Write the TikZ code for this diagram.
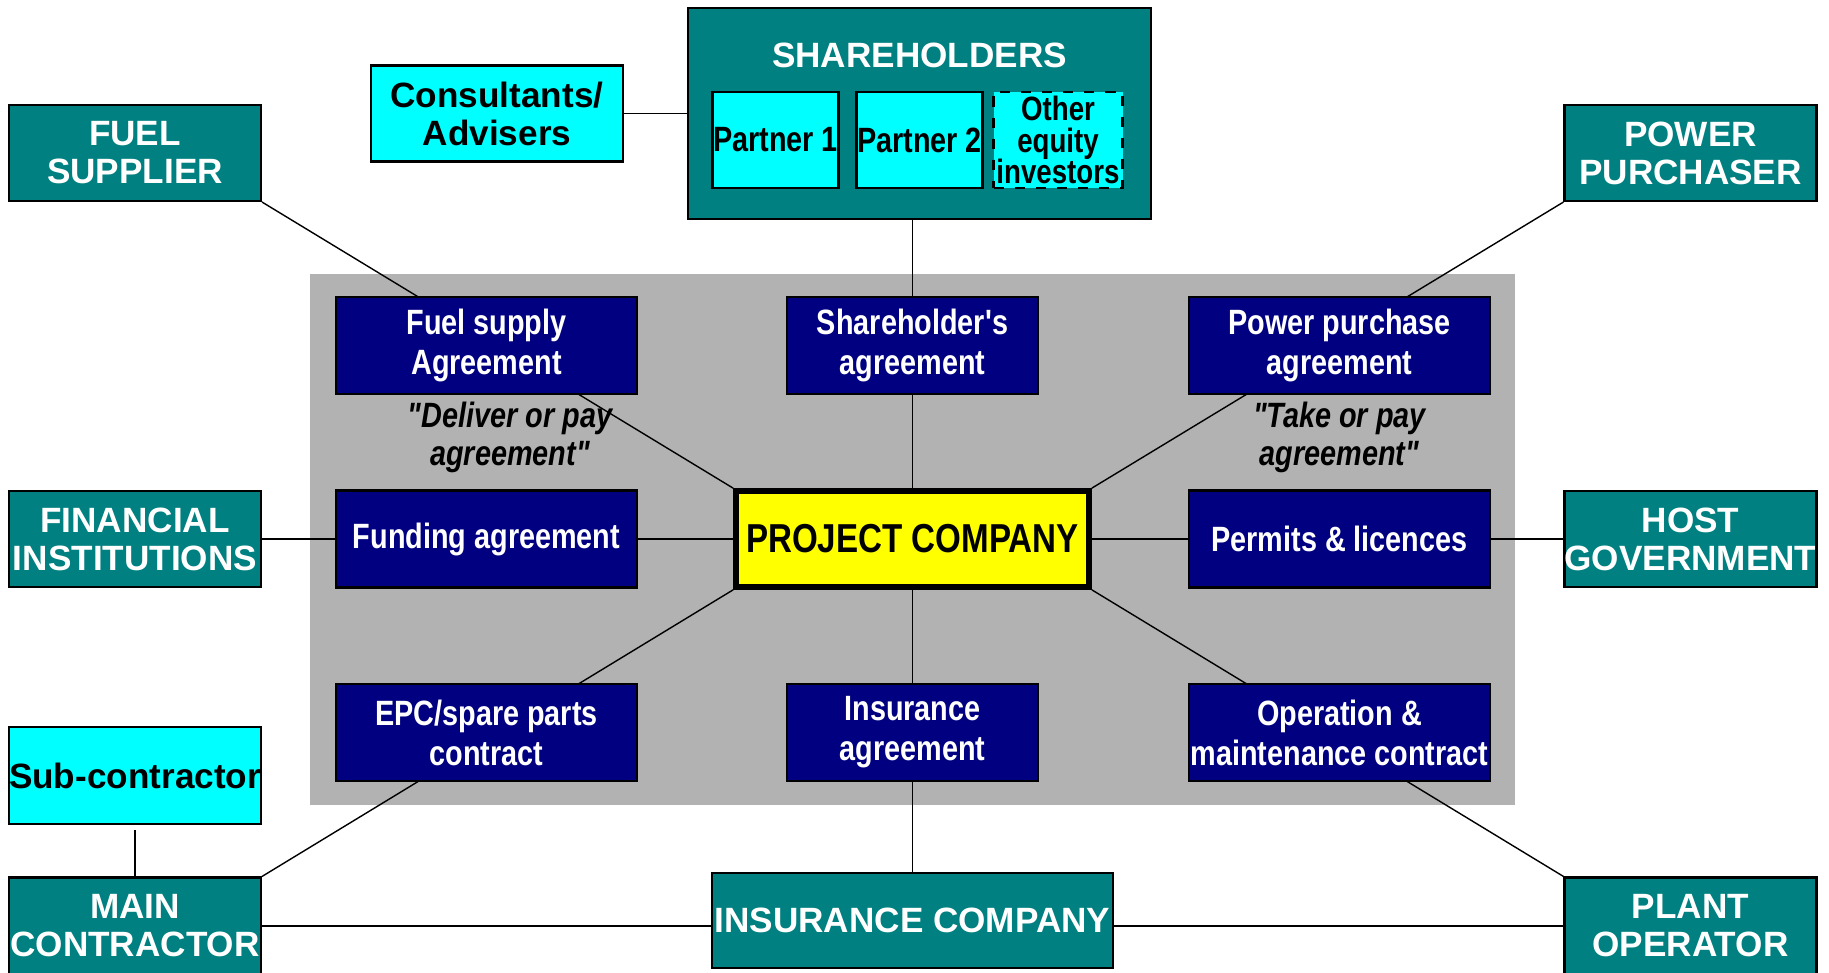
\documentclass[tikz,border=0pt]{standalone}
\usepackage{fontspec}
\setmainfont{Liberation Sans}
\newfontfamily\narrowfont[FakeStretch=0.82]{Liberation Sans}
\usetikzlibrary{positioning}

\definecolor{partyteal}{RGB}{0,128,128}
\definecolor{dealnavy}{RGB}{0,0,128}
\definecolor{helpcyan}{RGB}{0,255,255}
\definecolor{hubyellow}{RGB}{255,255,0}
\definecolor{zonegrey}{RGB}{178,178,178}

\pgfdeclarelayer{background}
\pgfdeclarelayer{links}
\pgfsetlayers{background,links,main}

\tikzset{
  box/.style={draw=black,line width=0.6pt,inner sep=0pt,align=center},
  party/.style={box,fill=partyteal,text=white,minimum width=2.52cm,minimum height=0.96cm,
    font=\bfseries\fontsize{10}{10.8}\selectfont},
  helper/.style={box,fill=helpcyan,text=black,minimum width=2.52cm,minimum height=0.96cm,
    font=\bfseries\fontsize{10}{10.8}\selectfont},
  partner/.style={box,fill=helpcyan,text=black,minimum width=1.26cm,minimum height=0.96cm,
    font=\narrowfont\bfseries\fontsize{10}{10.2}\selectfont},
  deal/.style={box,fill=dealnavy,text=white,minimum width=3.01cm,minimum height=0.97cm,
    font=\narrowfont\bfseries\fontsize{10}{11.4}\selectfont},
  dealmid/.style={deal,minimum width=2.51cm},
  hub/.style={box,fill=hubyellow,text=black,line width=1.6pt,minimum width=3.53cm,minimum height=0.96cm,
    font=\narrowfont\bfseries\fontsize{11.5}{12}\selectfont},
  note/.style={align=center,font=\narrowfont\bfseries\itshape\fontsize{10}{10.8}\selectfont}
}

\begin{document}
\begin{tikzpicture}[line width=0.5pt,on grid,node distance=2cm]
        \useasboundingbox (0,0) rectangle (18.29,-9.73);

        % project company and the agreements round it
        \node[hub] (pc) at (9.125,-5.39) {PROJECT COMPANY};
        \node[deal] (fundag) [left=4.26cm of pc] {Funding agreement};
        \node[deal] (permag) [right=4.27cm of pc] {Permits \& licences};
        \node[deal] (fuelag) [above left=1.935cm and 4.26cm of pc] {Fuel supply\\Agreement};
        \node[dealmid] (shag) [above=1.935cm of pc] {Shareholder's\\agreement};
        \node[deal] (ppag) [above right=1.935cm and 4.27cm of pc] {Power purchase\\agreement};
        \node[deal] (epcag) [below left=1.935cm and 4.26cm of pc] {EPC/spare parts\\contract};
        \node[dealmid] (insag) [below=1.935cm of pc] {Insurance\\agreement};
        \node[deal] (omag) [below right=1.935cm and 4.27cm of pc] {Operation \&\\maintenance contract};

        \node[note] (deliver) [below=0.915cm of fuelag,xshift=0.235cm] {"Deliver or pay\\agreement"};
        \node[note] (takepay) [below=0.915cm of ppag] {"Take or pay\\agreement"};

        % outer parties
        \node[party] (fininst) [left=3.515cm of fundag] {FINANCIAL\\INSTITUTIONS};
        \node[party] (fuelsup) [above=3.86cm of fininst] {FUEL\\SUPPLIER};
        \node[party] (maincon) [below=3.87cm of fininst,minimum height=0.97cm] {MAIN\\CONTRACTOR};
        \node[helper] (subcon) [above=1.505cm of maincon,minimum height=0.97cm] {Sub-contractor};
        \node[party] (hostgov) [right=3.51cm of permag] {HOST\\GOVERNMENT};
        \node[party] (powpur) [above=3.86cm of hostgov] {POWER\\PURCHASER};
        \node[party] (plantop) [below=3.87cm of hostgov,minimum height=0.97cm] {PLANT\\OPERATOR};
        \node[party] (inscomp) [below=3.815cm of pc,minimum width=4.01cm,minimum height=0.95cm] {INSURANCE COMPANY};

        % shareholders
        \node[party] (sh) [above=2.32cm of shag,xshift=0.07cm,minimum width=4.63cm,minimum height=2.11cm] {};
        \node[text=white,font=\bfseries\fontsize{10}{10.8}\selectfont] (shtitle) at ([yshift=-0.48cm]sh.north) {SHAREHOLDERS};
        \node[partner] (p2) [below=0.265cm of sh] {Partner 2};
        \node[partner] (p1) [left=1.44cm of p2] {Partner 1};
        \node[partner,dashed,minimum width=1.29cm,font=\narrowfont\bfseries\fontsize{9.6}{9}\selectfont] (p3) [right=1.385cm of p2] {Other\\equity\\investors};
        \node[helper] (cons) [left=4.225cm of sh] {Consultants/\\Advisers};

        \begin{pgfonlayer}{background}
            \fill[zonegrey] (3.10,-2.74) rectangle (15.15,-8.05);
        \end{pgfonlayer}

        \begin{pgfonlayer}{links}
            \draw (fuelsup.south east) -- (pc.north west);
            \draw (powpur.south west) -- (pc.north east);
            \draw (maincon.north east) -- (pc.south west);
            \draw (plantop.north west) -- (pc.south east);
            \draw (shag.north -| pc.north) -- (sh.south -| pc.north);
            \draw (shag.south -| pc.north) -- (pc.north);
            \draw (fininst) -- (pc);
            \draw (pc) -- (hostgov);
            \draw (pc.south) -- (inscomp.north -| pc.south);
            \draw (maincon.east) -- (maincon.east -| inscomp.west);
            \draw (inscomp.east |- plantop.west) -- (plantop.west);
            \draw (subcon.south) ++(0,-0.05) -- (maincon.north);
            \draw (cons.east) -- (cons.east -| sh.west);
        \end{pgfonlayer}
\end{tikzpicture}
\end{document}
